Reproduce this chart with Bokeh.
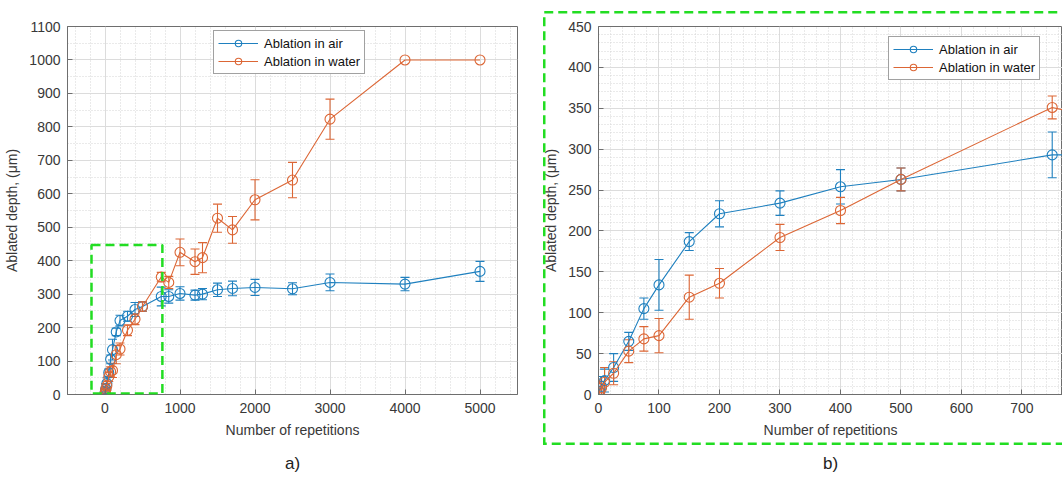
from bokeh.plotting import figure
from bokeh.layouts import row
from bokeh.models import (ColumnDataSource, Whisker, TeeHead, BoxAnnotation, Title,
                          SingleIntervalTicker, Range1d, InlineStyleSheet)
from bokeh.embed import file_html
from bokeh.resources import INLINE

# ---------------- data ----------------
reps = [1, 5, 10, 25, 50, 75, 100, 150, 200, 300, 400, 500, 750, 850,
        1000, 1200, 1300, 1500, 1700, 2000, 2500, 3000, 4000, 5000]
air_depth = [4, 10, 17, 33, 65, 105, 134, 187, 221, 234, 254, 263, 293, 293,
             302, 297, 300, 313, 317, 320, 316, 335, 330, 368]
air_err = [6, 12, 14, 17, 11, 13, 31, 11, 16, 15, 21, 14, 28, 20,
           20, 15, 17, 20, 22, 24, 18, 25, 20, 30]
water_depth = [3, 8, 15, 26, 53, 68, 72, 119, 136, 192, 225, 263, 351, 335,
               425, 397, 409, 527, 492, 582, 641, 823, 1000, 1000]
water_err = [4, 8, 18, 14, 14, 15, 21, 27, 18, 16, 16, 14, 14, 18,
             40, 38, 45, 42, 40, 60, 53, 60, 0, 0]
series_names = ["Ablation in air", "Ablation in water"]
x_label = "Number of repetitions"
y_label = "Ablated depth, (\u03bcm)"
panel_labels = ["a)", "b)"]

BLUE = "#1f80bf"
ORANGE = "#dc6635"
GREEN = "#22dd22"
FONT = "Liberation Sans"
AX = "#6e6e6e"
TXT = "#383838"


def series_sources(y, err):
    main = ColumnDataSource(dict(x=reps, y=y))
    xs = [r for r, e in zip(reps, err) if e > 0]
    lo = [v - e for v, e in zip(y, err) if e > 0]
    hi = [v + e for v, e in zip(y, err) if e > 0]
    wsk = ColumnDataSource(dict(x=xs, lower=lo, upper=hi))
    return main, wsk


def make_panel(width, xr, yr, xint, yint, xminor, yminor, mleft, mright,
               legend_loc, label, label_offset):
    p = figure(width=width, height=483, x_range=Range1d(*xr), y_range=Range1d(*yr),
               output_backend="svg", toolbar_location=None,
               min_border_left=mleft, min_border_right=mright,
               min_border_top=26, min_border_bottom=88,
               background_fill_color="white", border_fill_color="white")
    xt = SingleIntervalTicker(interval=xint, num_minor_ticks=xminor)
    yt = SingleIntervalTicker(interval=yint, num_minor_ticks=yminor)
    p.xaxis.ticker = xt
    p.yaxis.ticker = yt
    p.xgrid.ticker = xt
    p.ygrid.ticker = yt
    for g in (p.xgrid, p.ygrid):
        g.grid_line_color = "#dcdcdc"
        g.grid_line_width = 1
        g.minor_grid_line_color = "#d4d4d4"
        g.minor_grid_line_dash = "1 2"
        g.minor_grid_line_width = 1
    for ax in (p.xaxis, p.yaxis):
        ax.axis_line_color = AX
        ax.major_tick_line_color = AX
        ax.major_tick_in = 5
        ax.major_tick_out = 0
        ax.minor_tick_in = 0
        ax.minor_tick_out = 0
        ax.major_label_text_font = FONT
        ax.major_label_text_font_size = "14px"
        ax.major_label_text_color = TXT
        ax.axis_label_text_font = FONT
        ax.axis_label_text_font_size = "14px"
        ax.axis_label_text_font_style = "normal"
        ax.axis_label_text_color = TXT
    p.xaxis.major_label_standoff = 8
    p.yaxis.major_label_standoff = 7
    p.xaxis.axis_label_standoff = 6
    p.yaxis.axis_label_standoff = 6
    p.xaxis.axis_label = x_label
    p.yaxis.axis_label = y_label
    p.outline_line_color = AX
    p.outline_line_width = 1

    for y, err, col, name in ((air_depth, air_err, BLUE, series_names[0]),
                              (water_depth, water_err, ORANGE, series_names[1])):
        main, wsk = series_sources(y, err)
        p.line("x", "y", source=main, line_color=col, line_width=1.1, legend_label=name)
        p.scatter("x", "y", source=main, marker="circle", size=10, fill_color=None,
                  line_color=col, line_width=1.1, legend_label=name)
        w = Whisker(base="x", lower="lower", upper="upper", source=wsk,
                    line_color=col, line_width=1.1,
                    upper_head=TeeHead(size=9, line_color=col, line_width=1.1),
                    lower_head=TeeHead(size=9, line_color=col, line_width=1.1))
        p.add_layout(w)

    lg = p.legend[0]
    lg.location = legend_loc
    lg.label_text_font = FONT
    lg.label_text_font_size = "13px"
    lg.label_text_color = "#111111"
    lg.label_height = 16
    lg.glyph_height = 16
    lg.glyph_width = 40
    lg.label_standoff = 6
    lg.spacing = 2
    lg.padding = 4
    lg.margin = 0
    lg.border_line_color = "#444444"
    lg.border_line_width = 1
    lg.background_fill_color = "white"
    lg.background_fill_alpha = 1

    t = Title(text=label, align="center", text_font=FONT, text_font_size="17px",
              text_font_style="normal", text_color="#222222", offset=label_offset,
              standoff=22)
    p.add_layout(t, "below")
    return p


left = make_panel(540, (-500, 5500), (0, 1100), 1000, 100, 5, 2, 67, 23,
                  (146, 320), panel_labels[0], -5)
left.add_layout(BoxAnnotation(left=-180, right=765, bottom=3, top=447,
                              fill_color=None, fill_alpha=0, line_color=GREEN,
                              line_alpha=1, line_width=2.5,
                              line_dash="9 5", level="overlay"))

right = make_panel(522, (0, 767), (0, 450), 100, 50, 5, 5, 57, 0,
                   (290, 314), panel_labels[1], 12)

# dashed green frame around panel b), drawn over the panel's host element
svg_rect = ("data:image/svg+xml;utf8,<svg xmlns='http://www.w3.org/2000/svg' "
            "width='600' height='434'><rect x='1.25' y='1.25' width='597.5' "
            "height='431.5' fill='none' stroke='%2322dd22' stroke-width='2.5' "
            "stroke-dasharray='9 5'/></svg>")
css = (":host::after{content:'';position:absolute;left:3px;top:11px;"
       "width:600px;height:434px;pointer-events:none;z-index:10;"
       "background-image:url(\"" + svg_rect + "\");background-repeat:no-repeat;}")
right.stylesheets = [InlineStyleSheet(css=css)]

layout = row(left, right)
open("out.html", "w").write(file_html(layout, INLINE))
